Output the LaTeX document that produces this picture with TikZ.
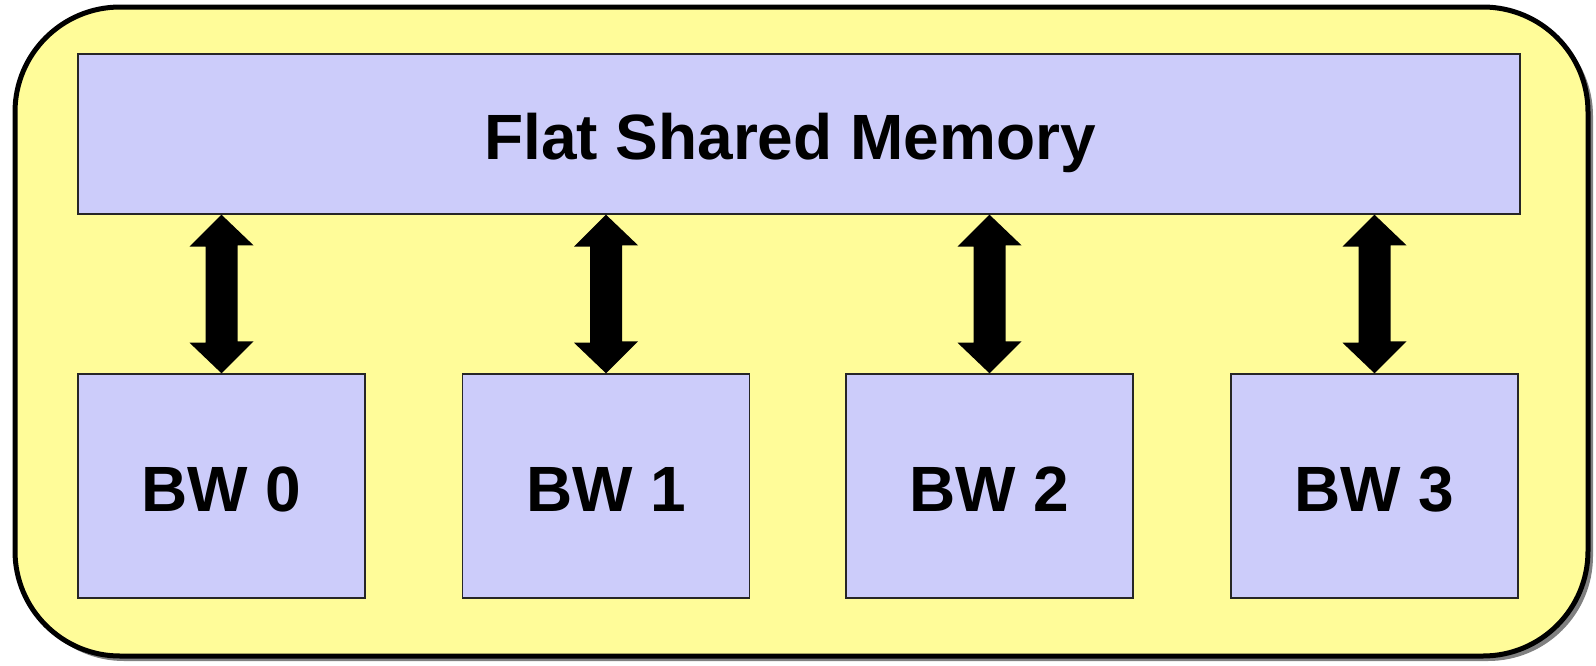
\documentclass[tikz,border=0pt]{standalone}
\usepackage{fontspec}
\setmainfont{Liberation Sans}
\definecolor{bgyellow}{HTML}{FFFC99}
\definecolor{boxblue}{HTML}{CCCCFA}
\definecolor{shadowgray}{HTML}{808080}
\begin{document}
\begin{tikzpicture}[x=1pt,y=-1pt,
  labeltext/.style={font=\fontsize{64}{70}\selectfont\bfseries,text height=51pt,text depth=0pt,inner sep=0pt},
  membox/.style={draw=black!85,line width=1.4pt,fill=boxblue,inner sep=0pt},
  bwbox/.style={membox,labeltext,minimum width=287pt,minimum height=224pt},
  bidir/.style={fill=black}]
\useasboundingbox (0,0) rectangle (1596,665);
% outer container with shadow
\fill[shadowgray,rounded corners=105pt] (19,11) rectangle (1593,661);
\draw[fill=bgyellow,line width=5pt,rounded corners=105pt] (15,7) rectangle (1588,656);
% top memory
\node[membox,minimum width=1442pt,minimum height=160pt] (mem) at (799,134) {};
\node[labeltext] (memlabel) at (790,134) {Flat Shared Memory};
% BW boxes
\node[bwbox] (bw0) at (221.5,486) {BW 0};
\node[bwbox] (bw1) at (606,486) {BW 1};
\node[bwbox] (bw2) at (989.5,486) {BW 2};
\node[bwbox] (bw3) at (1374.5,486) {BW 3};
% double arrows
\foreach \b in {bw0,bw1,bw2,bw3}{
  \fill[bidir] (\b.north) -- ++(32,-32) -- ++(-16,0) -- ++(0,-96) -- ++(16,0)
    -- (\b.north |- mem.south) -- ++(-32,32) -- ++(16,0) -- ++(0,96) -- ++(-16,0) -- cycle;
}
\end{tikzpicture}
\end{document}
